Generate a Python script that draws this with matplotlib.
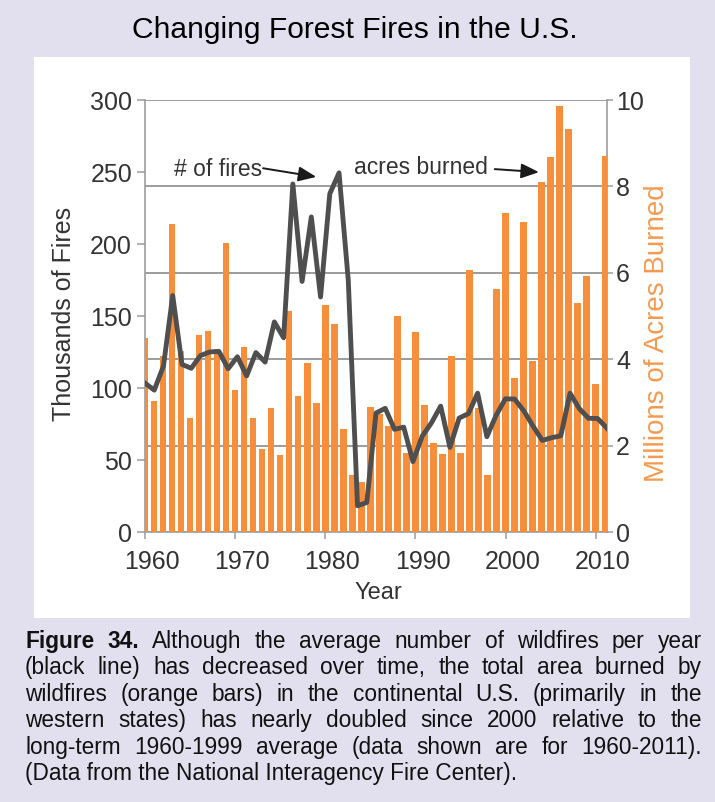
import matplotlib
matplotlib.use("Agg")
import matplotlib.pyplot as plt
from matplotlib.patches import Rectangle
from matplotlib.transforms import ScaledTranslation

plt.rcParams['font.family'] = ['Liberation Sans', 'DejaVu Sans']

# data
years = list(range(1960, 2012))
acres_millions = [4.48, 3.04, 4.08, 7.12, 4.20, 2.65, 4.57, 4.66, 4.23, 6.69,
                  3.28, 4.28, 2.64, 1.92, 2.88, 1.79, 5.11, 3.15, 3.91, 2.99,
                  5.26, 4.81, 2.38, 1.32, 1.15, 2.90, 2.72, 2.45, 5.01, 1.83,
                  4.62, 2.95, 2.07, 1.80, 4.07, 1.84, 6.07, 2.86, 1.33, 5.63,
                  7.39, 3.57, 7.18, 3.96, 8.10, 8.69, 9.87, 9.33, 5.29, 5.92,
                  3.42, 8.71]
fire_years = list(range(1960, 2011))
fires_thousands = [103.4, 98.5, 115.3, 164.2, 116.4, 113.7, 122.5, 125.0, 125.4, 113.4,
                   121.7, 108.4, 124.6, 118.0, 145.9, 134.9, 241.7, 174.0, 218.8, 163.2,
                   234.9, 249.4, 174.8, 18.2, 20.5, 82.6, 85.9, 71.3, 72.8, 48.9,
                   66.5, 75.8, 87.4, 58.8, 79.1, 82.2, 96.4, 66.2, 81.0, 92.5,
                   92.3, 84.1, 73.5, 63.6, 65.5, 66.8, 96.4, 85.7, 79.0, 78.8,
                   72.0]
x_ticks = [1960, 1970, 1980, 1990, 2000, 2010]
left_ticks = [0, 50, 100, 150, 200, 250, 300]
right_ticks = [0, 2, 4, 6, 8, 10]

title = "Changing Forest Fires in the U.S."
caption_lines = [
    "Figure 34. Although the average number of wildfires per year",
    "(black line) has decreased over time, the total area burned by",
    "wildfires (orange bars) in the continental U.S. (primarily in the",
    "western states) has nearly doubled since 2000 relative to the",
    "long-term 1960-1999 average (data shown are for 1960-2011).",
    "(Data from the National Interagency Fire Center).",
]

W, H = 715, 802
BG = '#e2e0ee'
ORANGE = '#f68e3c'
GRID = '#9c9c9c'
TXT = '#333333'

fig = plt.figure(figsize=(W / 100, H / 100), dpi=100)
fig.patch.set_facecolor(BG)


def fx(x):
    return x / W


def fy(y):
    return 1 - y / H


# white panel behind the chart
fig.add_artist(Rectangle((fx(34), fy(618)), fx(656), 561 / H, transform=fig.transFigure,
                         facecolor='white', edgecolor='none', zorder=-1))

rect = [fx(145), fy(532), 462 / W, 432 / H]

# bars: acres burned (right axis)
ax = fig.add_axes(rect)
ax.bar(years, acres_millions, width=0.72, color=ORANGE, zorder=2)
ax.set_xlim(1960, 2011.25)
ax.set_ylim(0, 10)
ax.set_axisbelow(True)
ax.yaxis.tick_right()
ax.set_yticks(right_ticks)
ax.grid(axis='y', color=GRID, lw=1.4)
ax.set_xticks(x_ticks)
for s in ['left', 'right', 'bottom']:
    ax.spines[s].set_color(GRID)
    ax.spines[s].set_linewidth(1.2)
    ax.spines[s].set_zorder(0.6)
ax.spines['top'].set_visible(False)
ax.tick_params(axis='x', direction='out', length=5, width=1.1, color=GRID,
               labelsize=18, labelcolor=TXT, pad=8)
ax.tick_params(axis='y', direction='out', length=4.5, width=1.1, color=GRID,
               labelsize=18, labelcolor=TXT, pad=2)
for lab in ax.get_xticklabels():
    lab.set_transform(lab.get_transform() + ScaledTranslation(0.07, 0, fig.dpi_scale_trans))

# line: number of fires (left axis)
ax2 = fig.add_axes(rect, frameon=False)
ax2.plot(fire_years, fires_thousands, color='#4f4f4f', lw=3.5, solid_joinstyle='round')
ax2.set_xlim(1960, 2010)
ax2.set_ylim(0, 300)
ax2.set_xticks([])
ax2.set_yticks(left_ticks)
ax2.tick_params(axis='y', direction='out', length=5.8, width=1.1, color=GRID,
                labelsize=18, labelcolor=TXT, pad=3.5)

# annotations
ax2.text(1973.0, 8.40, "# of fires", transform=ax.transData, ha='right', va='center',
         fontsize=16.5, color=TXT)
ax2.annotate('', xy=(1979.0, 8.22), xytext=(1973.1, 8.42), xycoords=ax.transData,
             textcoords=ax.transData,
             arrowprops=dict(arrowstyle='-|>,head_length=0.6,head_width=0.25', color='#1a1a1a',
                             lw=1.4, mutation_scale=18, shrinkA=0, shrinkB=0))
ax2.text(1998.0, 8.43, "acres burned", transform=ax.transData, ha='right', va='center',
         fontsize=16.5, color=TXT)
ax2.annotate('', xy=(2003.7, 8.33), xytext=(1998.8, 8.40), xycoords=ax.transData,
             textcoords=ax.transData,
             arrowprops=dict(arrowstyle='-|>,head_length=0.6,head_width=0.25', color='#1a1a1a',
                             lw=1.4, mutation_scale=18, shrinkA=0, shrinkB=0))

# axis labels
fig.text(fx(64), fy(314), "Thousands of Fires", rotation=90, ha='center', va='center',
         fontsize=18, color=TXT)
fig.text(fx(657), fy(333), "Millions of Acres Burned", rotation=90, ha='center', va='center',
         fontsize=20, color='#f59a50')
fig.text(fx(378), fy(593), "Year", ha='center', va='center', fontsize=17, color=TXT)

# title
fig.text(fx(355), fy(38), title, ha='center', va='baseline', fontsize=21.6, color='black')

# justified caption
renderer = fig.canvas.get_renderer()
cap_left, cap_right = 25, 702
cap_size = 16.3
for i, line in enumerate(caption_lines):
    base = fy(648 + 26.4 * i)
    if i == len(caption_lines) - 1:
        fig.text(fx(cap_left), base, line, fontsize=cap_size, va='baseline', color='#111111')
        continue
    words = line.split(' ')
    texts = []
    for j, w in enumerate(words):
        bold = (i == 0 and j < 2)
        t = fig.text(0, base, w, fontsize=cap_size, va='baseline', color='#111111',
                     weight='bold' if bold else 'normal')
        texts.append(t)
    widths = [t.get_window_extent(renderer).width for t in texts]
    gap = (cap_right - cap_left - sum(widths)) / (len(words) - 1)
    x = cap_left
    for t, w in zip(texts, widths):
        t.set_x(fx(x))
        x += w + gap

fig.savefig("out.png", dpi=100, facecolor=BG)
